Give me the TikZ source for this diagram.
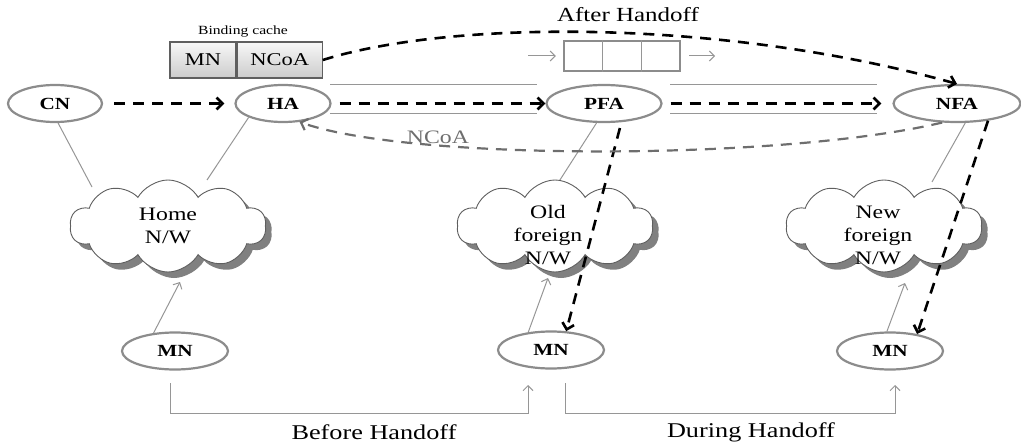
\documentclass[tikz,border=0pt]{standalone}
\usepackage{fontspec}
\setmainfont{Liberation Serif}[FakeStretch=1.25]
\usetikzlibrary{shapes.geometric,shapes.symbols,shadows,arrows.meta,calc}

\definecolor{ringgray}{RGB}{140,140,140}
\definecolor{linegray}{RGB}{150,150,150}
\definecolor{dashgray}{RGB}{110,110,110}
\definecolor{cloudedge}{RGB}{95,95,95}
\definecolor{shadowgray}{RGB}{128,128,128}

\begin{document}
\begin{tikzpicture}[x=1pt,y=-1pt,
  ent/.style={ellipse, draw=ringgray, line width=2.2pt, fill=white, inner sep=0pt,
    minimum height=37pt, font=\fontsize{17}{17}\selectfont\bfseries},
  net/.style={cloud, cloud puffs=10, cloud puff arc=120, cloud ignores aspect,
    minimum width=196pt, minimum height=92pt, draw=cloudedge, line width=0.9pt, fill=white,
    drop shadow={shadow xshift=6pt, shadow yshift=-6pt, fill=shadowgray, opacity=1}},
  nettext/.style={align=center, font=\fontsize{19}{23}\selectfont, inner sep=0pt},
  flow/.style={line width=2.6pt, dash pattern=on 11pt off 8pt,
    -{Straight Barb[length=6pt,width=12pt]}},
  reply/.style={flow, draw=dashgray, line width=2.2pt},
  link/.style={draw=linegray, line width=1pt},
  hop/.style={link, -{Straight Barb[length=5pt,width=10pt]}},
  cell/.style={rectangle, draw=cloudedge, line width=1.2pt, top color=gray!6,
    bottom color=gray!40, minimum height=36pt, inner sep=0pt,
    font=\fontsize{18}{18}\selectfont},
  caption/.style={font=\fontsize{21}{21}\selectfont, inner sep=0pt}
]
\useasboundingbox (0,0) rectangle (1021,444);

% top row of agents
\node[ent, minimum width=94pt]  (cn)  at (55,103.5)  {CN};
\node[ent, minimum width=95pt]  (ha)  at (283,103.5) {HA};
\node[ent, minimum width=115pt] (pfa) at (604,103.5) {PFA};
\node[ent, minimum width=127pt] (nfa) at (957,103.5) {NFA};

% mobile node positions
\node[ent, minimum width=106pt] (mn1) at (175,351) {MN};
\node[ent, minimum width=106pt] (mn2) at (551,350) {MN};
\node[ent, minimum width=106pt] (mn3) at (890,351) {MN};

% attachment points on the networks
\coordinate (homeA) at (92,187);
\coordinate (homeB) at (207,180);
\coordinate (homeC) at (180,282);
\coordinate (oldA)  at (558,183);
\coordinate (oldC)  at (548,278);
\coordinate (newA)  at (932,182);
\coordinate (newC)  at (905,283);

% wired links from agents to networks
\draw[link] (cn.-81)  -- (homeA);
\draw[link] (ha.-158) -- (homeB);
\draw[link] (pfa.-111) -- (oldA);
\draw[link] (nfa.-67)  -- (newA);

% networks
\node[net] (home) at (168,226) {};
\node[net] (oldnw) at (555,226) {};
\node[net] (newnw) at (884,226) {};
\node[nettext] at (168,225.5) {Home\\N/W};
\node[nettext] at (548,235) {Old\\foreign\\N/W};
\node[nettext] at (878,235) {New\\foreign\\N/W};

% mobile node attachments
\draw[hop] (mn1.140) -- (homeC);
\draw[hop] (mn2.142) -- (oldC);
\draw[hop] (mn3.99)  -- (newC);

% tunnel walls between agents
\coordinate (t1a) at (330,85);  \coordinate (t1b) at (537,85);
\coordinate (t1c) at (330,114); \coordinate (t1d) at (537,114);
\coordinate (t2a) at (670,85);  \coordinate (t2b) at (877,85);
\coordinate (t2c) at (670,114); \coordinate (t2d) at (877,114);
\draw[link] (t1a) -- (t1b);
\draw[link] (t1c) -- (t1d);
\draw[link] (t2a) -- (t2b);
\draw[link] (t2c) -- (t2d);

% binding cache
\node[cell, minimum width=66pt] (cacheL) at (203,60) {MN};
\node[cell, minimum width=85pt, anchor=west] (cacheR) at (cacheL.east) {NCoA};
\draw[draw=cloudedge, line width=1.2pt] (cacheL.north west) rectangle (cacheR.south east);
\node[font=\fontsize{12.5}{12.5}\selectfont, inner sep=0pt] (cachelbl) at (243,32) {Binding cache};

% packet buffer
\node[rectangle, draw=ringgray, line width=2.2pt, minimum width=116pt, minimum height=30pt,
  inner sep=0pt] (queue) at (622,56) {};
\draw[link, line width=1.2pt] ($(queue.north west)!1/3!(queue.north east)$) -- ($(queue.south west)!1/3!(queue.south east)$);
\draw[link, line width=1.2pt] ($(queue.north west)!2/3!(queue.north east)$) -- ($(queue.south west)!2/3!(queue.south east)$);
\coordinate (qin)  at (528,56);
\coordinate (qout) at (715,56);
\draw[hop] (qin) -- ($(queue.west)+(-7,0)$);
\draw[hop] ($(queue.east)+(8,0)$) -- (qout);

% data path
\draw[flow, shorten <=11pt, shorten >=10pt] (cn.east) -- (ha.west);
\draw[flow, shorten <=8pt] (ha.east) -- (pfa.west);
\draw[flow, shorten <=8pt, shorten >=11pt] (pfa.east) -- (nfa.west);
\draw[flow] (cacheR.east) .. controls (450,20) and (720,18) .. (nfa.north);
\draw[flow, shorten <=6pt] (pfa.-47) -- (mn2.51);
\draw[flow] (nfa.-29) -- (mn3.32);

% binding update back to the home agent
\draw[reply] (nfa.-128) .. controls (780,161) and (408,161) .. (ha.-48);
\node[font=\fontsize{19}{19}\selectfont, text=dashgray, inner sep=0pt] (ncoalbl) at (438,137) {NCoA};

\node[font=\fontsize{20}{20}\selectfont, inner sep=0pt] (afterlbl) at (628,15) {After Handoff};

% handoff phases
\coordinate (b1s) at (170,383);
\coordinate (b1e) at (528,385);
\coordinate (b2s) at (565,383);
\coordinate (b2e) at (895,385);
\draw[hop] (b1s) -- (170,413) -| (b1e);
\draw[hop] (b2s) -- (565,413) -| (b2e);
\node[caption] (beforelbl) at (374,432) {Before Handoff};
\node[caption] (duringlbl) at (751,432) {During Handoff};
\end{tikzpicture}
\end{document}
